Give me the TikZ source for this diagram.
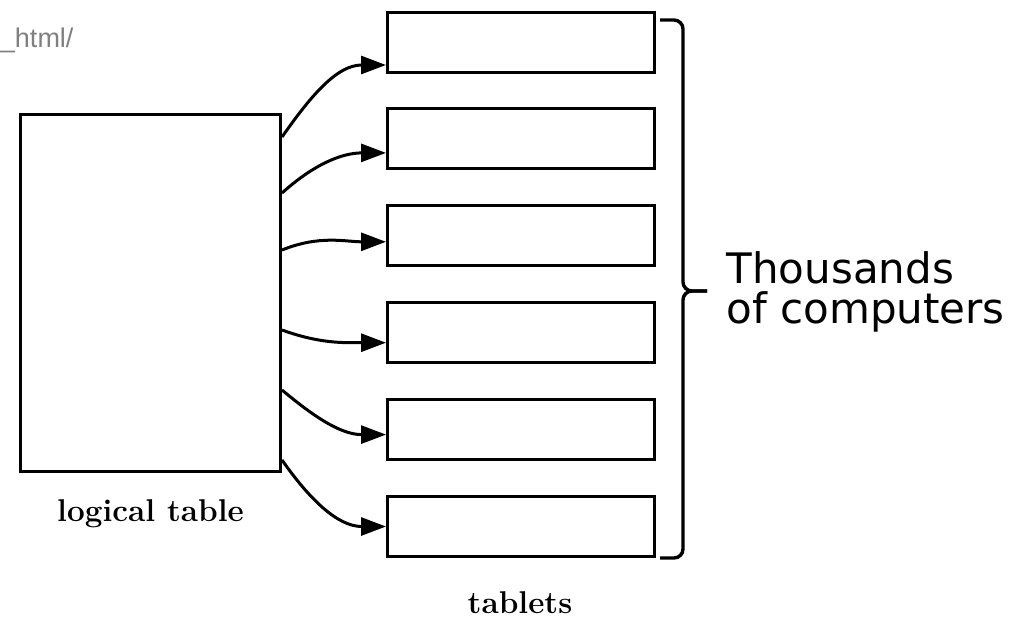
\documentclass[tikz,border=0pt]{standalone}
\usepackage{fontspec}
\usetikzlibrary{arrows.meta}
\newfontfamily\dejavu{DejaVu Sans}
\newfontfamily\libsans{Liberation Sans}
\definecolor{urlgray}{RGB}{128,128,128}

\begin{document}
\begin{tikzpicture}[x=1pt,y=1pt,line width=3pt]
			\tikzstyle{every node}+=[inner sep=0pt]
			\tikzstyle{tabbox}=[draw,black,minimum width=267pt,minimum height=60pt]
			\tikzstyle{feed}=[-{Triangle[length=25pt,width=18pt]}]
			\useasboundingbox (0,0) rectangle (1025,-619);
			\node [urlgray,font=\libsans\fontsize{27}{27}\selectfont,anchor=base east] (url) at (75,-47) {\_html/};
			\node [draw,black,minimum width=260pt,minimum height=357pt] (logtab) at (150.5,-293) {};
			\node [tabbox] (tab1) at (521,-42) {};
			\node [tabbox] (tab2) at (521,-138.9) {};
			\node [tabbox] (tab3) at (521,-235.8) {};
			\node [tabbox] (tab4) at (521,-332.7) {};
			\node [tabbox] (tab5) at (521,-429.6) {};
			\node [tabbox] (tab6) at (521,-526.5) {};
			\draw [feed] ([yshift=-24pt]logtab.north east) to [out=55,in=180] ([yshift=-23pt]tab1.west);
			\draw [feed] ([yshift=-80pt]logtab.north east) to [out=42,in=180] ([yshift=-14pt]tab2.west);
			\draw [feed] ([yshift=-137pt]logtab.north east) to [out=22,in=180] ([yshift=-6pt]tab3.west);
			\draw [feed] ([yshift=-217pt]logtab.north east) to [out=-20,in=180] ([yshift=-10pt]tab4.west);
			\draw [feed] ([yshift=-277pt]logtab.north east) to [out=-40,in=180] ([yshift=-5pt]tab5.west);
			\draw [feed] ([yshift=-347pt]logtab.north east) to [out=-55,in=180] (tab6.west);
			\draw [line width=3.4pt,rounded corners=9pt] (660,-20) -| (683,-291) -- (707,-291);
			\draw [line width=3.4pt,rounded corners=9pt] (707,-291) -- (683,-291) |- (660,-558);
			\node [font=\bfseries\fontsize{31.5}{31.5}\selectfont,anchor=base] (logtablbl) at (150.5,-521) {logical table};
			\node [font=\bfseries\fontsize{31.5}{31.5}\selectfont,anchor=base] (tabletslbl) at (520,-613) {tablets};
			\node [font=\dejavu\fontsize{42}{40}\selectfont,align=left,anchor=west] (thousands) at (725,-292) {Thousands\\of computers};
		\end{tikzpicture}
\end{document}
